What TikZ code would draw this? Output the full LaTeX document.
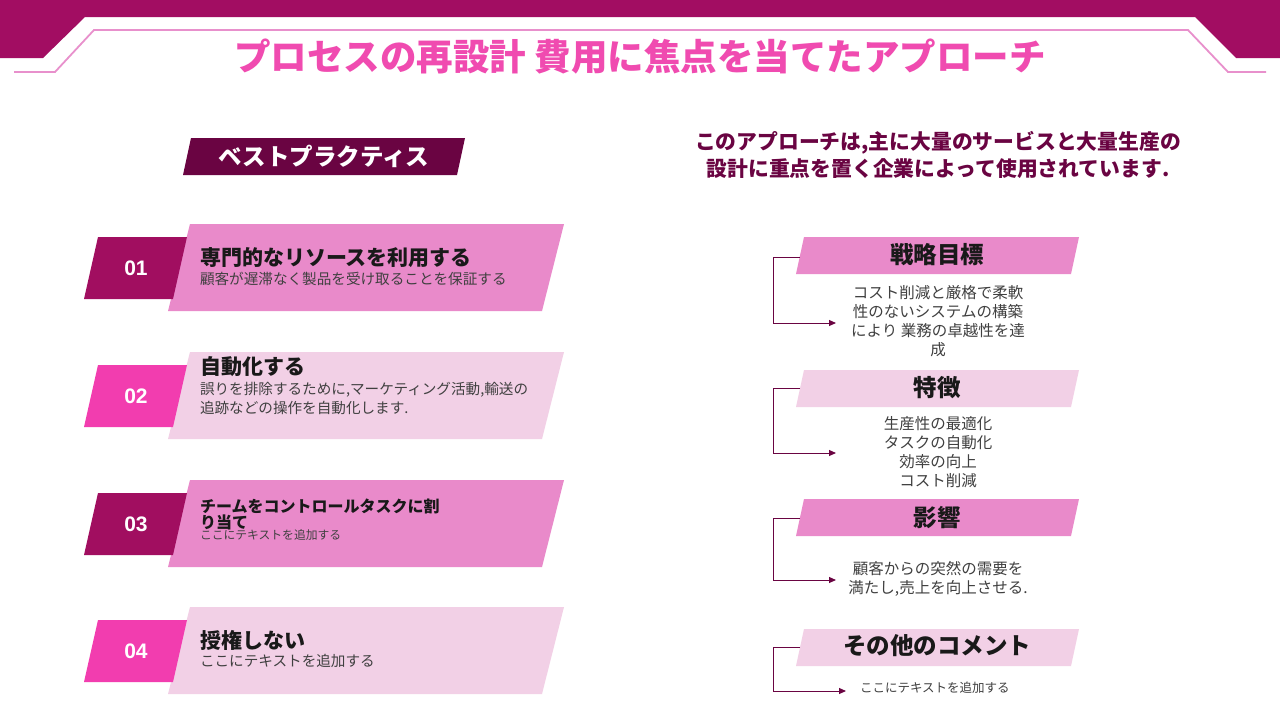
\documentclass[tikz,border=0pt]{standalone}
\usepackage{fontspec}
\setmainfont{Noto Sans CJK JP}
\newfontfamily\numfont{Liberation Sans}
\usetikzlibrary{arrows.meta}
\definecolor{band}{HTML}{A20D62}
\definecolor{numdark}{HTML}{A10E60}
\definecolor{numbright}{HTML}{F23DAF}
\definecolor{midpink}{HTML}{E98ACA}
\definecolor{lightpink}{HTML}{F2D0E6}
\definecolor{maroon}{HTML}{6A0442}
\definecolor{titlepink}{HTML}{F04BB0}
\definecolor{linepink}{HTML}{E890CC}
\definecolor{subgray}{HTML}{404040}
\newcommand\pg[6]{\fill[#1] (#2,#3) -- ++(#4,0) -- ++(-#6,#5) -- ++(-#4,0) -- cycle;}
\tikzset{
  every node/.style={inner sep=0pt, outer sep=0pt},
  maintitle/.style={text=titlepink, font=\fontsize{36.5}{42}\selectfont\bfseries},
  subhead/.style={text=maroon, align=center, font=\fontsize{20.8}{27}\selectfont\bfseries},
  numtext/.style={text=white, font=\numfont\fontsize{21}{24}\selectfont\bfseries},
  rtitle/.style={anchor=west, text=black!90, font=\fontsize{21}{24}\selectfont\bfseries},
  rsub/.style={anchor=west, align=left, text=subgray, font=\fontsize{14.6}{19}\selectfont},
  hdtext/.style={text=black!90, font=\fontsize{23.5}{26}\selectfont\bfseries},
  body/.style={align=center, text=subgray, font=\fontsize{15.5}{19}\selectfont},
  conn/.style={draw=maroon, line width=1pt, -{Triangle[length=7pt,width=6pt]}},
}
\begin{document}
\begin{tikzpicture}[x=1pt,y=-1pt]
\useasboundingbox (0,0) rectangle (1280,720);
\fill[white] (0,0) rectangle (1280,720);
% header band
\fill[band] (0,0) -- (1280,0) -- (1280,58) -- (1236,58) -- (1195,17) -- (85,17) -- (43,58) -- (0,58) -- cycle;
\draw[linepink, line width=1.8pt] (14,72) -- (55,72) -- (94,30) -- (1188,30) -- (1228,72) -- (1266,72);
\node[maintitle] (title) at (640,57) {プロセスの再設計 費用に焦点を当てたアプローチ};
% best practices label
\pg{maroon}{191}{138}{274}{37}{8}
\node[text=white, font=\fontsize{23.5}{26}\selectfont\bfseries] (bp) at (324,156) {ベストプラクティス};
% right subtitle
\node[subhead] (sub) at (938,154.5) {このアプローチは,主に大量のサービスと大量生産の\\設計に重点を置く企業によって使用されています.};
% rows
\pg{midpink}{190}{224}{374}{87}{22}
\pg{numdark}{98}{237}{89}{62}{14}
\node[numtext] (n1) at (136,268) {01};
\node[rtitle] (r1t) at (200,258) {専門的なリソースを利用する};
\node[rsub] (r1s) at (200,279) {顧客が遅滞なく製品を受け取ることを保証する};

\pg{lightpink}{190}{352}{374}{87}{22}
\pg{numbright}{98}{365}{89}{62}{14}
\node[numtext] (n2) at (136,396) {02};
\node[rtitle] (r2t) at (200,367) {自動化する};
\node[rsub] (r2s) at (200,398.5) {誤りを排除するために,マーケティング活動,輸送の\\追跡などの操作を自動化します.};

\pg{midpink}{190}{480}{374}{87}{22}
\pg{numdark}{98}{493}{89}{62}{14}
\node[numtext] (n3) at (136,524) {03};
\node[rtitle, align=left, font=\fontsize{16}{15}\selectfont\bfseries] (r3t) at (200,514.5) {チームをコントロールタスクに割\\り当て};
\node[rsub, font=\fontsize{11.8}{14}\selectfont] (r3s) at (200,535) {ここにテキストを追加する};

\pg{lightpink}{190}{607}{374}{87}{22}
\pg{numbright}{98}{620}{89}{62}{14}
\node[numtext] (n4) at (136,651) {04};
\node[rtitle] (r4t) at (200,640) {授権しない};
\node[rsub] (r4s) at (200,661) {ここにテキストを追加する};
% right headers
\pg{midpink}{804}{237}{275}{37}{8}
\node[hdtext] (h1) at (937,255) {戦略目標};
\pg{lightpink}{804}{370}{275}{37}{8}
\node[hdtext] (h2) at (937,388) {特徴};
\pg{midpink}{804}{499}{275}{37}{8}
\node[hdtext] (h3) at (937,518) {影響};
\pg{lightpink}{804}{629}{275}{37}{8}
\node[hdtext] (h4) at (937,646) {その他のコメント};
% right body texts
\node[body] (t1) at (938,321.5) {コスト削減と厳格で柔軟\\性のないシステムの構築\\により 業務の卓越性を達\\成};
\node[body] (t2) at (938,452.5) {生産性の最適化\\タスクの自動化\\効率の向上\\コスト削減};
\node[body] (t3) at (938,578.5) {顧客からの突然の需要を\\満たし,売上を向上させる.};
\node[body, anchor=west, font=\fontsize{12.5}{14}\selectfont] (t4) at (860,688) {ここにテキストを追加する};
% connectors
\coordinate (c1s) at (800,257); \coordinate (c1e) at (836,323);
\coordinate (c2s) at (800,388); \coordinate (c2e) at (836,453);
\coordinate (c3s) at (800,518); \coordinate (c3e) at (836,580);
\coordinate (c4s) at (800,647); \coordinate (c4e) at (846,691);
\draw[conn] (c1s) -- ++(-27,0) |- (c1e);
\draw[conn] (c2s) -- ++(-27,0) |- (c2e);
\draw[conn] (c3s) -- ++(-27,0) |- (c3e);
\draw[conn] (c4s) -- ++(-27,0) |- (c4e);
\end{tikzpicture}
\end{document}
